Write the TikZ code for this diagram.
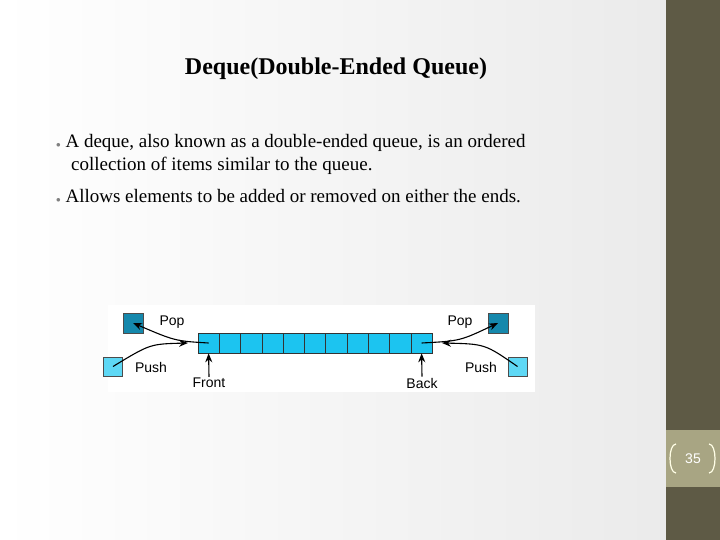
\documentclass[tikz,border=0pt]{standalone}
\usepackage{fontspec}
\setmainfont{Liberation Serif}
\setsansfont{Liberation Sans}
\usetikzlibrary{arrows.meta, positioning}
\definecolor{side}{HTML}{5E5A45}
\definecolor{sidelt}{HTML}{A8A583}
\definecolor{cell}{HTML}{1CC4F0}
\definecolor{popc}{HTML}{1588AC}
\definecolor{pushc}{HTML}{5ED8F5}
\begin{document}
\begin{tikzpicture}[x=1pt,y=-1pt]
\tikzset{
  qcell/.style={draw=black!80, fill=cell, minimum width=21.3pt, minimum height=20pt, inner sep=0pt, line width=0.6pt},
  popbox/.style={draw=black!70, fill=popc, minimum size=20pt, inner sep=0pt},
  pushbox/.style={draw=black!70, fill=pushc, minimum size=19pt, inner sep=0pt},
  lbl/.style={font=\sffamily\fontsize{14}{16}\selectfont, inner sep=1pt},
  arr/.style={-{Stealth[length=9pt,width=7pt]}, line width=1.1pt}
}
\useasboundingbox (0,0) rectangle (720,540);
\shade[left color=white, right color=black!8] (0,0) rectangle (666,540);
\fill[side] (666,0) rectangle (720,540);
\fill[sidelt] (666,430) rectangle (720,487);
\draw[white!90!yellow, line width=1.2pt] (676,444) .. controls (668,444) and (668,473) .. (676,473);
\draw[white!90!yellow, line width=1.2pt] (709,444) .. controls (717,444) and (717,473) .. (709,473);
\node[text=white, font=\sffamily\fontsize{14}{16}\selectfont] (pg) at (693,459) {35};
% title and bullets
\node[font=\bfseries\fontsize{24}{28}\selectfont] (title) at (336,69) {Deque(Double-Ended Queue)};
\node[anchor=west, font=\fontsize{19}{23}\selectfont, inner sep=0pt] (b1) at (56,143)
 {\textcolor{black!50}{\small$\bullet$}\ A deque, also known as a double-ended queue, is an ordered};
\node[anchor=west, font=\fontsize{19}{23}\selectfont, inner sep=0pt] (b1b) at (71,166)
 {collection of items similar to the queue.};
\node[anchor=west, font=\fontsize{19}{23}\selectfont, inner sep=0pt] (b2) at (56,196)
 {\textcolor{black!50}{\small$\bullet$}\ Allows elements to be added or removed on either the ends.};
% diagram
\fill[white] (108,305) rectangle (535,392);
\foreach \i in {0,...,10}
  \node[qcell] (c\i) at (208.6+\i*21.3,343) {};
\node[popbox] (lpop) at (133,323) {};
\node[pushbox] (lpush) at (113,366.5) {};
\node[popbox] (rpop) at (498,323) {};
\node[pushbox] (rpush) at (517.5,366.5) {};
\node[lbl] (lpopt) at (172,322) {Pop};
\node[lbl] (lpusht) at (151,367) {Push};
\node[lbl] (rpopt) at (460,322) {Pop};
\node[lbl] (rpusht) at (481,367) {Push};
\node[lbl] (front) at (209,383) {Front};
\node[lbl] (back) at (422,383) {Back};
\draw[arr] (c0.center) .. controls (175,341) .. (lpop.center);
\draw[arr] (lpush.center) .. controls (150,344) .. (188,343);
\draw[arr] (c10.center) .. controls (460,341) .. (rpop.center);
\draw[arr] (rpush.center) .. controls (485,344) .. (442,343);
\draw[arr] (front.north) -- (c0.south);
\draw[arr] (back.north) -- (c10.south);
\end{tikzpicture}
\end{document}
